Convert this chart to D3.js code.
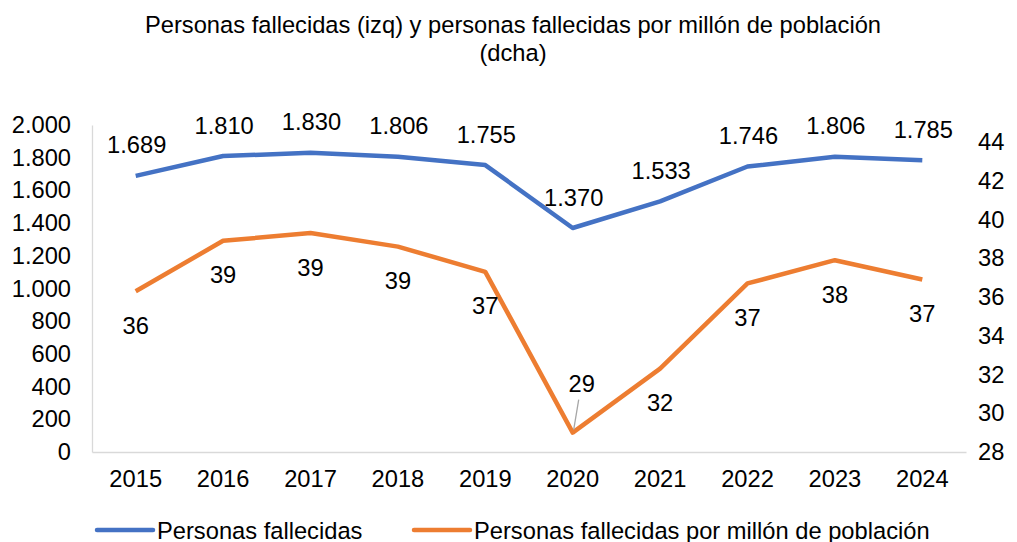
<!DOCTYPE html>
<html>
<head>
<meta charset="utf-8">
<script src="https://cdn.jsdelivr.net/npm/d3@7"></script>
<style>
  body { margin: 0; background: #fff; }
  svg text { font-family: "Liberation Sans", Arial, sans-serif; fill: #000; }
</style>
</head>
<body>
<div id="chart"></div>
<script>
const years = ["2015", "2016", "2017", "2018", "2019", "2020", "2021", "2022", "2023", "2024"];
const fallecidos = [1689, 1810, 1830, 1806, 1755, 1370, 1533, 1746, 1806, 1785];
const por_millon = [36.3, 38.9, 39.3, 38.6, 37.3, 29.0, 32.3, 36.7, 37.9, 36.9];
const por_millon_labels = ["36", "39", "39", "39", "37", "29", "32", "37", "38", "37"];
const left_ticks = [0, 200, 400, 600, 800, 1000, 1200, 1400, 1600, 1800, 2000];
const right_ticks = [28, 30, 32, 34, 36, 38, 40, 42, 44];
const title_lines = ["Personas fallecidas (izq) y personas fallecidas por millón de población", "(dcha)"];
const legend_names = ["Personas fallecidas", "Personas fallecidas por millón de población"];

const width = 1017, height = 542;
const plot = { left: 92, right: 966, top: 125, bottom: 452 };
const colors = { blue: "#4472C4", orange: "#ED7D31" };
const font_size = "23.7px";

const svg = d3.select("#chart")
  .append("svg")
    .attr("width", width)
    .attr("height", height);

// numbers with "." as thousands separator
const fmt = (v) => d3.format(",")(v).replace(/,/g, ".");

const x = d3.scaleBand()
  .domain(years)
  .range([plot.left, plot.right]);
const xc = (d) => x(d) + x.bandwidth() / 2;

const y_left = d3.scaleLinear()
  .domain([0, 2000])
  .range([plot.bottom, plot.top]);

// right axis: 2 units ~ 38.75px, 28 at the bottom
const y_right = d3.scaleLinear()
  .domain([28, 44])
  .range([plot.bottom, plot.bottom - 310]);

// title
svg.selectAll(".title")
  .data(title_lines)
  .join("text")
    .attr("class", "title")
    .attr("x", 513)
    .attr("y", (d, i) => 33 + i * 28)
    .attr("text-anchor", "middle")
    .style("font-size", font_size)
    .text((d) => d);

// axes
const left_axis = svg.append("g")
  .attr("transform", `translate(${plot.left},0)`)
  .call(d3.axisLeft(y_left).tickValues(left_ticks).tickFormat(fmt).tickSize(0).tickPadding(21));
left_axis.select(".domain").attr("stroke", "#d9d9d9").attr("stroke-width", 1.3);

const right_axis = svg.append("g")
  .attr("transform", `translate(${plot.right},0)`)
  .call(d3.axisRight(y_right).tickValues(right_ticks).tickSize(0).tickPadding(12));
right_axis.select(".domain").remove();

const bottom_axis = svg.append("g")
  .attr("transform", `translate(0,${plot.bottom})`)
  .call(d3.axisBottom(x).tickSize(0).tickPadding(18));
bottom_axis.select(".domain").attr("stroke", "#d9d9d9").attr("stroke-width", 1.3);

svg.selectAll(".tick text").style("font-size", font_size);

// lines
const line_left = d3.line()
  .x((d, i) => xc(years[i]))
  .y((d) => y_left(d));
const line_right = d3.line()
  .x((d, i) => xc(years[i]))
  .y((d) => y_right(d));

svg.append("path")
  .datum(fallecidos)
  .attr("d", line_left)
  .attr("fill", "none")
  .attr("stroke", colors.blue)
  .attr("stroke-width", 4.5)
  .attr("stroke-linejoin", "round");

svg.append("path")
  .datum(por_millon)
  .attr("d", line_right)
  .attr("fill", "none")
  .attr("stroke", colors.orange)
  .attr("stroke-width", 4.5)
  .attr("stroke-linejoin", "round");

// data labels
svg.selectAll(".lab-blue")
  .data(fallecidos)
  .join("text")
    .attr("class", "lab-blue")
    .attr("x", (d, i) => xc(years[i]) + 1)
    .attr("y", (d) => y_left(d) - 31 + 8.5)
    .attr("text-anchor", "middle")
    .style("font-size", font_size)
    .text(fmt);

svg.selectAll(".lab-orange")
  .data(por_millon)
  .join("text")
    .attr("class", "lab-orange")
    .attr("x", (d, i) => xc(years[i]) + (i == 5 ? 9 : 0))
    .attr("y", (d, i) => y_right(d) + (i == 5 ? -49 : 34) + 8.5)
    .attr("text-anchor", "middle")
    .style("font-size", font_size)
    .text((d, i) => por_millon_labels[i]);

// leader line for 2020
svg.append("line")
  .attr("x1", xc(years[5]) + 6)
  .attr("y1", y_right(por_millon[5]) - 33)
  .attr("x2", xc(years[5]) + 1)
  .attr("y2", y_right(por_millon[5]) - 3)
  .attr("stroke", "#a6a6a6")
  .attr("stroke-width", 1.3);

// legend
const legend = svg.selectAll(".legend")
  .data(legend_names)
  .join("g")
    .attr("class", "legend")
    .attr("transform", (d, i) => `translate(${i == 0 ? 97 : 414},530)`);
legend.append("line")
  .attr("x1", 0).attr("x2", 56)
  .attr("y1", 0).attr("y2", 0)
  .attr("stroke", (d, i) => i == 0 ? colors.blue : colors.orange)
  .attr("stroke-width", 4.5)
  .attr("stroke-linecap", "round");
legend.append("text")
  .attr("x", 60)
  .attr("y", 8.5)
  .style("font-size", font_size)
  .text((d) => d);
</script>
</body>
</html>
